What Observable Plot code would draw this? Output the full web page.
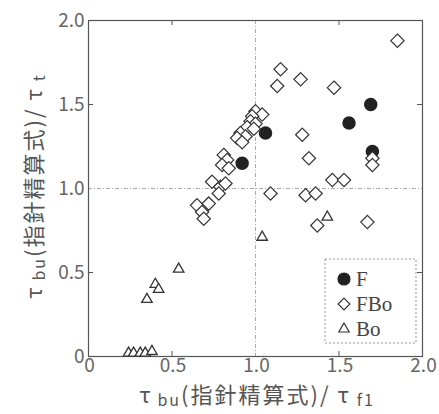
<!DOCTYPE html>
<html><head><meta charset="utf-8">
<script src="https://cdn.jsdelivr.net/npm/d3@7"></script>
<script src="https://cdn.jsdelivr.net/npm/@observablehq/plot@0.6"></script>
<style>body{margin:0;background:#fff} svg{display:block}</style>
</head><body><div id="chart"></div>
<script>
// ---- data ----
const seriesNames = ["F", "FBo", "Bo"];
const fX = [0.92, 1.06, 1.56, 1.69, 1.70];
const fY = [1.15, 1.33, 1.39, 1.50, 1.22];
const fboX = [1.85, 1.15, 1.13, 1.27, 1.47, 1.70, 1.70, 1.28, 1.32, 1.46, 1.53, 1.09, 1.30, 1.36, 1.67, 1.37,
  1.00, 1.04, 0.98, 0.97, 1.00, 0.95, 0.99, 0.91, 0.94, 0.89, 0.92, 0.81, 0.83, 0.80, 0.84, 0.74, 0.79, 0.82, 0.78, 0.65, 0.72, 0.68, 0.69];
const fboY = [1.88, 1.71, 1.61, 1.65, 1.60, 1.18, 1.14, 1.32, 1.18, 1.05, 1.05, 0.97, 0.96, 0.97, 0.80, 0.78,
  1.46, 1.44, 1.43, 1.40, 1.385, 1.365, 1.355, 1.33, 1.31, 1.30, 1.275, 1.20, 1.17, 1.14, 1.12, 1.04, 1.01, 1.03, 0.97, 0.90, 0.91, 0.86, 0.82];
const boX = [0.24, 0.27, 0.31, 0.34, 0.38, 0.35, 0.40, 0.42, 0.54, 1.04, 1.43];
const boY = [0.02, 0.02, 0.02, 0.02, 0.03, 0.34, 0.43, 0.40, 0.52, 0.71, 0.83];
const labelTicks = [0, 0.5, 1, 1.5, 2];
const innerTicks = [0.5, 1.5];
const gridValues = [1];
const xLabelParts = ["τ", "bu", "(指針精算式)/ τ", "f1"];
const yLabelParts = ["τ", "bu", "(指針精算式)/ τ", "t"];

// ---- build ----
const F = fX.map((x, i) => ({x, y: fY[i]}));
const FBo = fboX.map((x, i) => ({x, y: fboY[i]}));
const Bo = boX.map((x, i) => ({x, y: boY[i]}));
const fmt = d => d === 0 ? "0" : d.toFixed(1);
const ink = "#333";
const tickInk = "#555";
const font = "'Noto Sans CJK JP', 'Noto Sans', sans-serif";

const plot = Plot.plot({
  width: 439, height: 414,
  marginLeft: 88, marginRight: 17, marginTop: 20, marginBottom: 58,
  x: {domain: [0, 2]},
  y: {domain: [0, 2]},
  style: {fontFamily: font, fontSize: "19px", color: "#666", background: "#fff", overflow: "visible"},
  marks: [
    Plot.ruleX(gridValues, {stroke: "#aaa", strokeDasharray: "4,2,1,2", strokeWidth: 1}),
    Plot.ruleY(gridValues, {stroke: "#aaa", strokeDasharray: "4,2,1,2", strokeWidth: 1}),
    Plot.axisX({anchor: "bottom", ticks: labelTicks, tickSize: 0, tickPadding: 2, tickFormat: fmt, label: null, letterSpacing: 3, dx: 1}),
    Plot.axisY({anchor: "left", ticks: labelTicks, tickSize: 0, tickPadding: 4, tickFormat: fmt, label: null, letterSpacing: 3}),
    // inward ticks on all four sides
    Plot.ruleX(innerTicks, {y1: 0, y2: 0, insetTop: -5, stroke: tickInk}),
    Plot.ruleX(innerTicks, {y1: 2, y2: 2, insetBottom: -5, stroke: tickInk}),
    Plot.ruleY(innerTicks, {x1: 0, x2: 0, insetRight: -5, stroke: tickInk}),
    Plot.ruleY(innerTicks, {x1: 2, x2: 2, insetLeft: -5, stroke: tickInk}),
    Plot.frame({stroke: tickInk, strokeWidth: 1.2}),
    Plot.dot(F, {x: "x", y: "y", r: 6, fill: "#222", stroke: "#222"}),
    Plot.dot(FBo, {x: "x", y: "y", symbol: "diamond2", r: 6, fill: "white", stroke: ink, strokeWidth: 1.2}),
    Plot.dot(Bo, {x: "x", y: "y", symbol: "triangle2", r: 5, fill: "white", stroke: ink, strokeWidth: 1.3})
  ]
});
document.getElementById("chart").appendChild(plot);

// ---- axis labels with subscripts ----
const svg = d3.select(plot);
function label(parts, transform) {
  const t = svg.append("text").attr("transform", transform).attr("text-anchor", "middle")
    .attr("font-family", font).attr("font-size", 22).attr("fill", "#555").attr("letter-spacing", 2);
  t.append("tspan").text(parts[0]);
  t.append("tspan").attr("font-size", 16).attr("dx", 5).attr("dy", 3).text(parts[1]);
  t.append("tspan").attr("dy", -3).text(parts[2]);
  t.append("tspan").attr("font-size", 16).attr("dx", 6).attr("dy", 3).text(parts[3]);
}
label(xLabelParts, "translate(257,403)");
label(yLabelParts, "translate(42,186) rotate(-90)");

// ---- legend ----
const lg = svg.append("g");
lg.append("rect").attr("x", 325).attr("y", 259).attr("width", 91).attr("height", 84)
  .attr("fill", "white").attr("stroke", "#999").attr("stroke-dasharray", "2,2");
const syms = [
  {t: d3.symbolCircle, size: Math.PI * 36, fill: "#222", stroke: "#222"},
  {t: d3.symbolDiamond2, size: Math.PI * 28, fill: "white", stroke: ink},
  {t: d3.symbolTriangle2, size: Math.PI * 25, fill: "white", stroke: ink}
];
seriesNames.forEach((name, i) => {
  const cy = 279 + i * 25;
  lg.append("path").attr("d", d3.symbol(syms[i].t, syms[i].size)())
    .attr("transform", `translate(344,${cy})`).attr("fill", syms[i].fill)
    .attr("stroke", syms[i].stroke).attr("stroke-width", 1.2);
  lg.append("text").attr("x", 356).attr("y", cy).attr("dy", "0.35em").attr("text-anchor", "start")
    .attr("font-family", "'Liberation Serif', serif").attr("font-size", 21).attr("fill", "#444").text(name);
});
</script>
</body></html>
